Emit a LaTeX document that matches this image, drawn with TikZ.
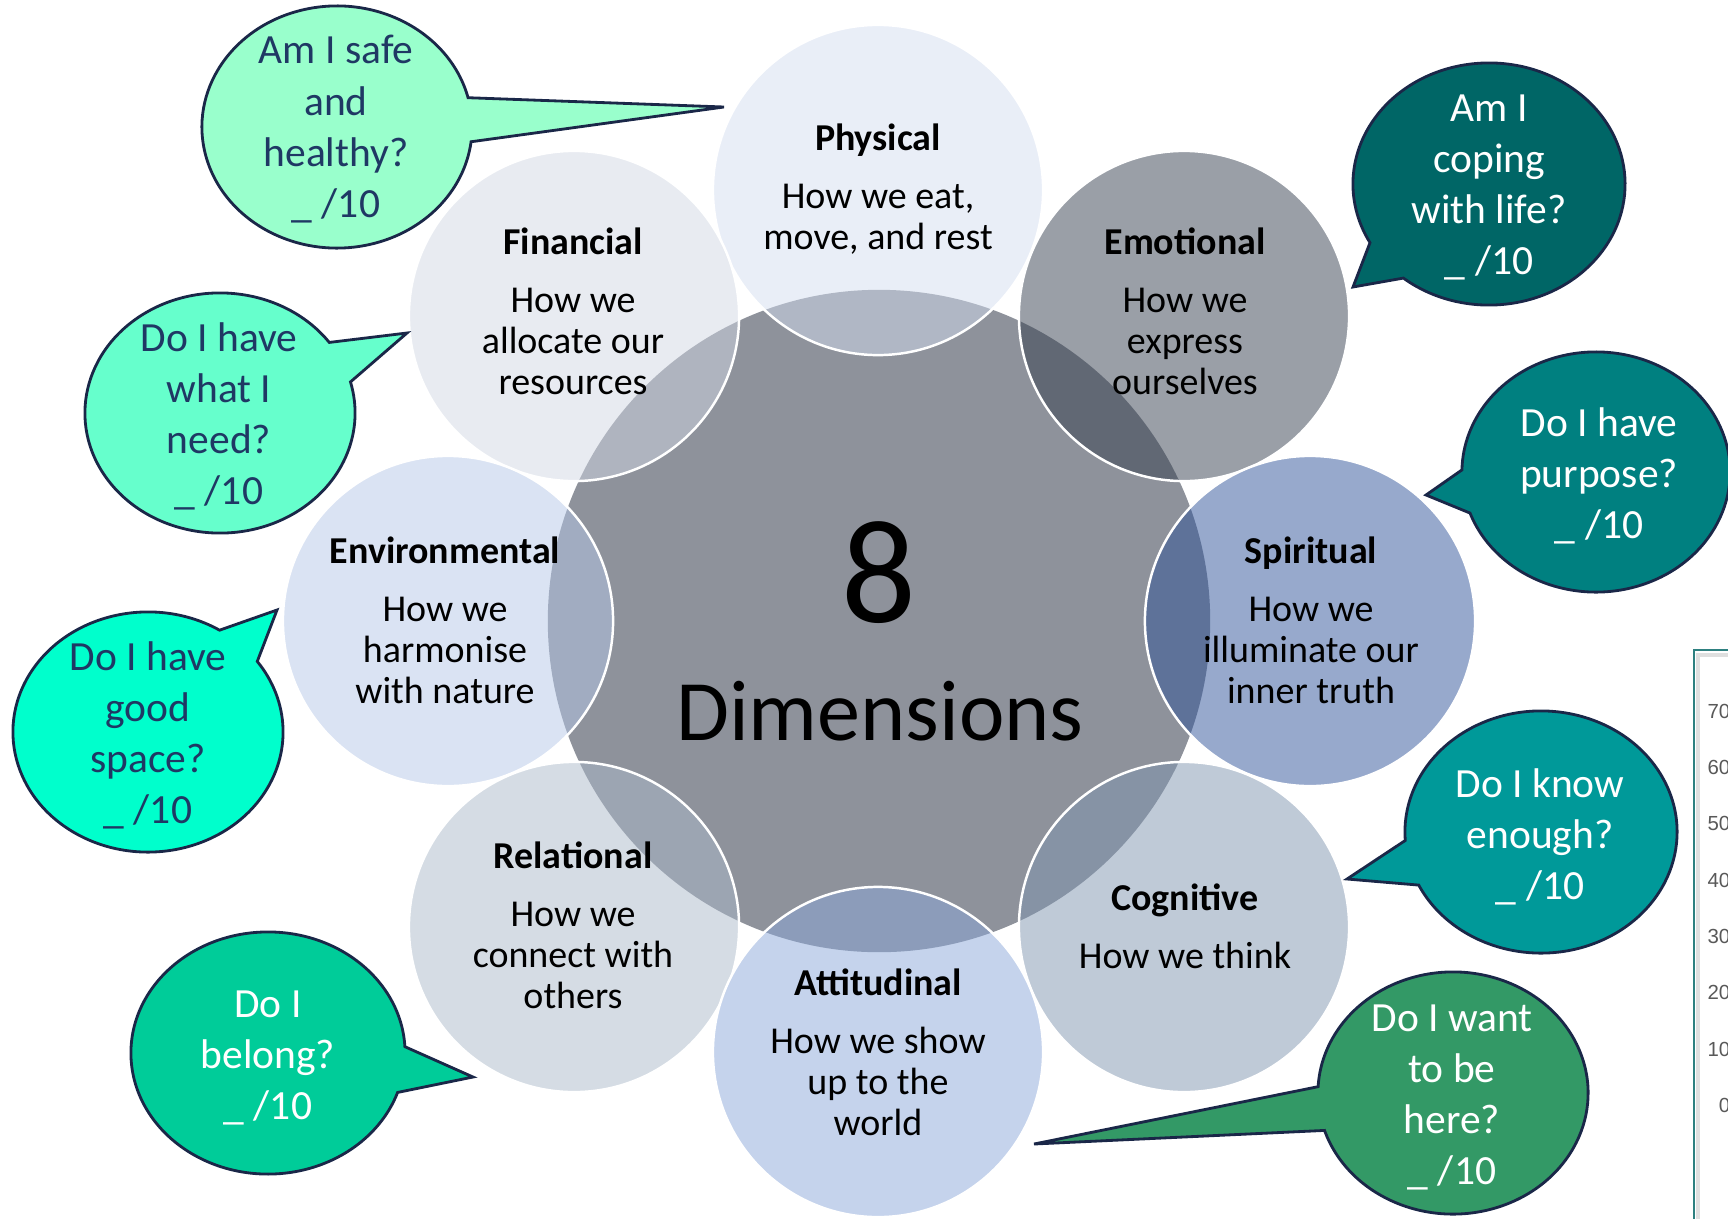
\documentclass[tikz,border=0pt]{standalone}
\usepackage{fontspec}
\setmainfont{Carlito}
\newfontfamily\chartfont{Liberation Sans}
\definecolor{centergray}{RGB}{142,146,155}
\definecolor{physc}{RGB}{211,221,239}
\definecolor{finc}{RGB}{209,215,227}
\definecolor{emoc}{RGB}{53,63,79}
\definecolor{envc}{RGB}{181,199,231}
\definecolor{spic}{RGB}{47,83,153}
\definecolor{relc}{RGB}{171,185,201}
\definecolor{cogc}{RGB}{127,149,175}
\definecolor{attc}{RGB}{139,167,217}
\definecolor{bA}{RGB}{153,255,204}
\definecolor{bB}{RGB}{102,255,204}
\definecolor{bC}{RGB}{0,255,204}
\definecolor{bD}{RGB}{0,204,153}
\definecolor{bE}{RGB}{0,102,102}
\definecolor{bF}{RGB}{0,128,128}
\definecolor{bG}{RGB}{0,153,153}
\definecolor{bH}{RGB}{51,153,102}
\definecolor{navytext}{RGB}{31,56,100}
\definecolor{bubline}{RGB}{26,39,72}
\definecolor{chartteal}{RGB}{46,128,128}
\definecolor{chartgray}{RGB}{89,89,89}
\begin{document}
\begin{tikzpicture}[x=0.01cm,y=-0.01cm,
  dimcirc/.style={circle, inner sep=0pt, minimum size=3.3cm, draw=white, line width=0.7pt, fill opacity=0.5, draw opacity=1},
  ttl/.style={anchor=base, inner sep=0pt, font=\fontsize{10.8}{13}\selectfont\bfseries},
  bod/.style={anchor=base, inner sep=0pt, font=\fontsize{10.8}{13}\selectfont},
  bub/.style={draw=bubline, line width=0.8pt},
  qd/.style={anchor=base, inner sep=0pt, font=\fontsize{11.8}{14}\selectfont, text=navytext},
  qw/.style={anchor=base, inner sep=0pt, font=\fontsize{11.8}{14}\selectfont, text=white},
  axlab/.style={anchor=base east, inner sep=0pt, font=\chartfont\fontsize{5.8}{7}\selectfont, text=chartgray}]
\useasboundingbox (0,0) rectangle (1728,1218);
\clip (0,0) rectangle (1728,1218);

% central circle
\node[circle, inner sep=0pt, minimum size=6.62cm, fill=centergray] (core) at (879,621) {};

% eight dimension circles
\node[dimcirc, fill=physc] (phys) at (878,190) {};
\node[dimcirc, fill=finc] (fin) at (574,316) {};
\node[dimcirc, fill=emoc] (emo) at (1184,316) {};
\node[dimcirc, fill=envc] (env) at (448,621) {};
\node[dimcirc, fill=spic] (spi) at (1310,621) {};
\node[dimcirc, fill=relc] (rel) at (574,927) {};
\node[dimcirc, fill=cogc] (cog) at (1184,927) {};
\node[dimcirc, fill=attc] (att) at (878,1052) {};

% centre text
\node[anchor=base, inner sep=0pt, font=\fontsize{42}{50}\selectfont] (eight) at (879,622) {8};
\node[anchor=base, inner sep=0pt, font=\fontsize{24.5}{29}\selectfont] (dims) at (880,740) {Dimensions};

% circle texts
\node[ttl] (phys-t) at (878,150) {Physical};
\node[bod] (phys-1) at (878,208) {How we eat,};
\node[bod] (phys-2) at (878,249) {move, and rest};

\node[ttl] (fin-t) at (573,254) {Financial};
\node[bod] (fin-1) at (573,312) {How we};
\node[bod] (fin-2) at (573,353) {allocate our};
\node[bod] (fin-3) at (573,394) {resources};

\node[ttl] (emo-t) at (1185,254) {Emotional};
\node[bod] (emo-1) at (1185,312) {How we};
\node[bod] (emo-2) at (1185,353) {express};
\node[bod] (emo-3) at (1185,394) {ourselves};

\node[ttl] (env-t) at (445,563) {Environmental};
\node[bod] (env-1) at (445,621) {How we};
\node[bod] (env-2) at (445,662) {harmonise};
\node[bod] (env-3) at (445,703) {with nature};

\node[ttl] (spi-t) at (1311,563) {Spiritual};
\node[bod] (spi-1) at (1311,621) {How we};
\node[bod] (spi-2) at (1311,662) {illuminate our};
\node[bod] (spi-3) at (1311,703) {inner truth};

\node[ttl] (rel-t) at (573,868) {Relational};
\node[bod] (rel-1) at (573,926) {How we};
\node[bod] (rel-2) at (573,967) {connect with};
\node[bod] (rel-3) at (573,1008) {others};

\node[ttl] (cog-t) at (1185,910) {Cognitive};
\node[bod] (cog-1) at (1185,968) {How we think};

\node[ttl] (att-t) at (878,995) {Attitudinal};
\node[bod] (att-1) at (878,1053) {How we show};
\node[bod] (att-2) at (878,1094) {up to the};
\node[bod] (att-3) at (878,1135) {world};

% speech bubbles
\coordinate (tipA) at (724,107);
\coordinate (tipB) at (407,333);
\coordinate (tipC) at (277,610);
\coordinate (tipD) at (473,1077);
\coordinate (tipE) at (1353,287);
\coordinate (tipF) at (1426,495);
\coordinate (tipG) at (1347,879);
\coordinate (tipH) at (1034,1144);

\path[bub, fill=bA] (337,127) ++(14:1.35cm and 1.21cm)
  arc[start angle=14, end angle=353, x radius=1.35cm, y radius=1.21cm] -- (tipA) -- cycle;
\path[bub, fill=bB] (220,413) ++(36:1.35cm and 1.20cm)
  arc[start angle=36, end angle=375, x radius=1.35cm, y radius=1.20cm] -- (tipB) -- cycle;
\path[bub, fill=bC] (148,732) ++(58:1.35cm and 1.20cm)
  arc[start angle=58, end angle=396, x radius=1.35cm, y radius=1.20cm] -- (tipC) -- cycle;
\path[bub, fill=bD] (268,1053) ++(3:1.37cm and 1.21cm)
  arc[start angle=3, end angle=341, x radius=1.37cm, y radius=1.21cm] -- (tipD) -- cycle;
\path[bub, fill=bE] (1489,184) ++(231:1.36cm and 1.21cm)
  arc[start angle=231, end angle=569, x radius=1.36cm, y radius=1.21cm] -- (tipE) -- cycle;
\path[bub, fill=bF] (1596,472) ++(200:1.34cm and 1.20cm)
  arc[start angle=200, end angle=539, x radius=1.34cm, y radius=1.20cm] -- (tipF) -- cycle;
\path[bub, fill=bG] (1541,832) ++(206:1.36cm and 1.21cm)
  arc[start angle=206, end angle=544, x radius=1.36cm, y radius=1.21cm] -- (tipG) -- cycle;
\path[bub, fill=bH] (1453,1093) ++(198:1.35cm and 1.21cm)
  arc[start angle=198, end angle=537, x radius=1.35cm, y radius=1.21cm] -- (tipH) -- cycle;

% bubble texts
\node[qd] (qA1) at (336,64) {Am I safe};
\node[qd] (qA2) at (336,115) {and};
\node[qd] (qA3) at (336,166) {healthy?};
\node[qd] (qA4) at (336,217) {\_ /10};

\node[qd] (qB1) at (219,351) {Do I have};
\node[qd] (qB2) at (219,402) {what I};
\node[qd] (qB3) at (219,453) {need?};
\node[qd] (qB4) at (219,504) {\_ /10};

\node[qd] (qC1) at (148,670) {Do I have};
\node[qd] (qC2) at (148,721) {good};
\node[qd] (qC3) at (148,772) {space?};
\node[qd] (qC4) at (148,823) {\_ /10};

\node[qw] (qD1) at (268,1017) {Do I};
\node[qw] (qD2) at (268,1068) {belong?};
\node[qw] (qD3) at (268,1119) {\_ /10};

\node[qw] (qE1) at (1489,121) {Am I};
\node[qw] (qE2) at (1489,172) {coping};
\node[qw] (qE3) at (1489,223) {with life?};
\node[qw] (qE4) at (1489,274) {\_ /10};

\node[qw] (qF1) at (1599,436) {Do I have};
\node[qw] (qF2) at (1599,487) {purpose?};
\node[qw] (qF3) at (1599,538) {\_ /10};

\node[qw] (qG1) at (1540,797) {Do I know};
\node[qw] (qG2) at (1540,848) {enough?};
\node[qw] (qG3) at (1540,899) {\_ /10};

\node[qw] (qH1) at (1452,1031) {Do I want};
\node[qw] (qH2) at (1452,1082) {to be};
\node[qw] (qH3) at (1452,1133) {here?};
\node[qw] (qH4) at (1452,1184) {\_ /10};

% chart fragment at the right edge
\draw[gray!25, line width=1.2pt] (1698,1240) -- (1698,655) -- (1740,655);
\draw[chartteal, line width=0.7pt] (1694,1240) -- (1694,650) -- (1740,650);
\node[axlab] (y70) at (1731,718) {70};
\node[axlab] (y60) at (1731,774) {60};
\node[axlab] (y50) at (1731,830) {50};
\node[axlab] (y40) at (1731,887) {40};
\node[axlab] (y30) at (1731,943) {30};
\node[axlab] (y20) at (1731,999) {20};
\node[axlab] (y10) at (1731,1056) {10};
\node[axlab] (y0) at (1731,1112) {0};
\end{tikzpicture}
\end{document}
